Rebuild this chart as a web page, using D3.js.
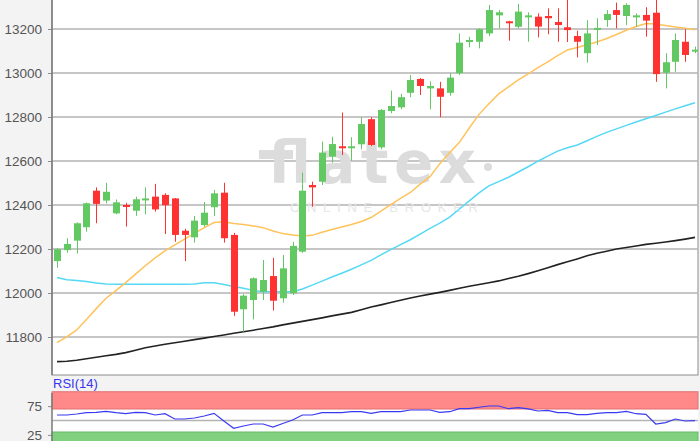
<!DOCTYPE html>
<html lang="de">
  <head>
    <meta charset="utf-8">
    <title>Kerzenchart mit RSI</title>
    <script src="https://d3js.org/d3.v7.min.js"></script>
    <style>
      body { margin: 0; background: #f3f3f3; }
      #chart text { font-family: "Liberation Sans", Arial, sans-serif; }
    </style>
  </head>
  <body>
    <div id="chart"></div>

    <script type="text/javascript">
      "use strict"
      // kerzen (open / high / low / close), eine pro handelstag
      var abertura = [12145, 12195, 12238, 12299, 12465, 12420, 12362, 12400, 12374, 12425, 12438, 12446, 12430, 12283, 12253, 12309, 12390,
                      12456, 12264, 11926, 11968, 12006, 12077, 11976, 11999, 12188, 12491, 12506, 12620, 12667, 12660, 12676, 12790,
                      12662, 12827, 12844, 12910, 12973, 12930, 12930, 12910, 12999, 13141, 13142, 13180, 13262, 13235, 13210, 13259,
                      13256, 13259, 13232, 13208, 13168, 13090, 13200, 13241, 13286, 13259, 13258, 13264, 13274, 13001, 13051, 13142, 13102];
      var maxima   = [12205, 12249, 12321, 12411, 12480, 12501, 12425, 12410, 12438, 12480, 12496, 12453, 12432, 12292, 12350, 12414, 12468,
                      12501, 12273, 11995, 12071, 12150, 12160, 12173, 12233, 12547, 12506, 12688, 12710, 12820, 12708, 12799, 12799,
                      12836, 12920, 12905, 12991, 12977, 12962, 12960, 12999, 13180, 13165, 13203, 13309, 13286, 13237, 13314, 13276,
                      13271, 13294, 13294, 13360, 13192, 13240, 13249, 13286, 13320, 13317, 13271, 13299, 13360, 13090, 13180, 13199, 13120];
      var minima   = [12115, 12183, 12180, 12279, 12317, 12408, 12358, 12302, 12351, 12358, 12370, 12268, 12233, 12145, 12229, 12301, 12350,
                      12229, 11896, 11824, 11880, 11968, 11920, 11956, 11991, 12183, 12392, 12491, 12592, 12627, 12601, 12653, 12668,
                      12653, 12817, 12835, 12890, 12900, 12835, 12799, 12897, 12991, 13117, 13112, 13168, 13203, 13147, 13203, 13142,
                      13162, 13176, 13142, 13141, 13071, 13047, 13127, 13210, 13203, 13218, 13210, 13165, 12960, 12930, 13006, 13051, 13090];
      var fecho    = [12199, 12223, 12317, 12408, 12405, 12460, 12412, 12395, 12426, 12430, 12380, 12399, 12264, 12264, 12329, 12365, 12453,
                      12249, 11915, 11988, 12067, 12059, 11965, 12112, 12214, 12465, 12480, 12638, 12677, 12662, 12667, 12768, 12673,
                      12832, 12850, 12890, 12968, 12941, 12941, 12892, 12979, 13138, 13150, 13199, 13286, 13276, 13229, 13279, 13262,
                      13211, 13249, 13218, 13195, 13142, 13180, 13205, 13268, 13264, 13309, 13262, 13238, 12995, 13049, 13150, 13082, 13106];

      // gleitende durchschnitte
      var media20  = [11774, 11801, 11832, 11880, 11929, 11976, 12011, 12047, 12086, 12124, 12160, 12191, 12219, 12245, 12271, 12297, 12320,
                      12324, 12316, 12311, 12305, 12297, 12282, 12270, 12264, 12259, 12262, 12276, 12289, 12300, 12311, 12325, 12343,
                      12372, 12402, 12430, 12457, 12495, 12529, 12588, 12637, 12685, 12750, 12812, 12860, 12905, 12937, 12969, 12996,
                      13024, 13051, 13079, 13105, 13116, 13128, 13141, 13157, 13175, 13194, 13211, 13225, 13223, 13216, 13209, 13203, 13197];
      var media50  = [12070, 12060, 12057, 12052, 12046, 12041, 12040, 12040, 12040, 12040, 12040, 12040, 12040, 12040, 12041, 12047, 12047,
                      12039, 12030, 12022, 12012, 12006, 12006, 12006, 12006, 12018, 12036, 12054, 12073, 12090, 12108, 12128, 12148,
                      12173, 12197, 12220, 12242, 12268, 12294, 12318, 12345, 12382, 12419, 12455, 12487, 12506, 12526, 12550, 12574,
                      12599, 12622, 12645, 12660, 12673, 12692, 12712, 12730, 12746, 12762, 12777, 12792, 12807, 12822, 12837, 12851, 12865];
      var media200 = [11688, 11690, 11694, 11701, 11708, 11715, 11721, 11729, 11740, 11751, 11759, 11767, 11774, 11781, 11788, 11795, 11802,
                      11809, 11817, 11824, 11831, 11839, 11846, 11855, 11863, 11871, 11879, 11887, 11896, 11904, 11912, 11924, 11936,
                      11946, 11957, 11967, 11977, 11986, 11995, 12003, 12012, 12022, 12031, 12039, 12047, 12055, 12066, 12076, 12088,
                      12101, 12115, 12129, 12142, 12155, 12169, 12181, 12190, 12200, 12207, 12214, 12221, 12226, 12232, 12238, 12245, 12253];

      // RSI(14)
      var rsi = [59.6, 59.6, 61.3, 63.6, 64.1, 65.8, 63.6, 61.8, 64.1, 63.6, 59.6, 61.8, 52.6, 52.6, 54.3, 57.8, 62.5,
                 49, 36.4, 40.4, 43.9, 43.9, 38.7, 44.8, 50.9, 59.6, 59.6, 63.6, 63.6, 63.6, 65.3, 65.3, 62.5,
                 65.3, 65.3, 65.3, 68.3, 68.3, 68.3, 64.3, 65.3, 70.5, 70.5, 73.0, 75.2, 75.2, 70.5, 72.3, 70.3,
                 66.5, 67.7, 63.6, 63.6, 60.1, 60.1, 62.5, 63.6, 63.6, 66.0, 61.8, 60.8, 43.9, 46.2, 52.6, 49.1, 49.7];

      var ticksPreco = [11800, 12000, 12200, 12400, 12600, 12800, 13000, 13200];
      var ticksRsi = [25, 75];

      var larguraSVG = 700, alturaSVG = 441;
      var painel = {left: 52, right: 698, top: -2, bottom: 375};   // painel de precos
      var painelRsi = {top: 393, bottom: 450};

      var svg = d3.select('#chart')
        .append('svg')
          .attr('width', larguraSVG)
          .attr('height', alturaSVG);

      svg.append('rect').attr('width', larguraSVG).attr('height', alturaSVG).attr('fill', '#f3f3f3');

      /*
       * escalas
       */
      var x = d3.scaleLinear()
                .domain([0, abertura.length - 1])
                .range([57, 695]);
      var y = d3.scaleLinear()
                .domain([11627.3, 13331.8])
                .range([375, 0]);
      var yRsi = d3.scaleLinear()
                .domain([0, 100])
                .range([449.25, 391.75]);

      svg.append('clipPath').attr('id', 'clipPreco')
        .append('rect')
          .attr('x', painel.left).attr('y', painel.top)
          .attr('width', painel.right - painel.left).attr('height', painel.bottom - painel.top);

      // fundo branco do painel
      svg.append('rect')
        .attr('x', painel.left).attr('y', painel.top)
        .attr('width', painel.right - painel.left).attr('height', painel.bottom - painel.top)
        .attr('fill', '#fff')
        .attr('stroke', '#8c8c8c');

      // linhas de grade
      svg.append('g').selectAll('line')
        .data(ticksPreco)
        .enter().append('line')
          .attr('x1', painel.left).attr('x2', painel.right)
          .attr('y1', d => y(d)).attr('y2', d => y(d))
          .attr('stroke', '#b3b3b3')
          .attr('stroke-width', 1.5);

      // marca d'agua
      var marca = svg.append('g').attr('fill', '#dcdcdc');
      marca.append('rect').attr('x', 259).attr('y', 150).attr('width', 34).attr('height', 9);
      marca.append('text')
        .attr('x', 268).attr('y', 183)
        .attr('textLength', 208)
        .style('font-family', '"DejaVu Sans", sans-serif')
        .style('font-weight', 'bold')
        .style('font-size', '58px')
        .text('flatex');
      marca.append('circle').attr('cx', 488).attr('cy', 167).attr('r', 4);
      marca.append('text')
        .attr('x', 290).attr('y', 212)
        .attr('textLength', 188)
        .attr('fill', '#e6e6e6')
        .style('font-size', '13px')
        .text('ONLINE BROKER');

      /*
       * as marcas
       */
      var area = svg.append('g').attr('clip-path', 'url(#clipPreco)');

      var linha = d3.line()
        .x((d, i) => x(i))
        .y(d => y(d));

      area.append('path').datum(media200)
        .attr('d', linha).attr('fill', 'none').attr('stroke', '#222').attr('stroke-width', 1.6);
      area.append('path').datum(media50)
        .attr('d', linha).attr('fill', 'none').attr('stroke', '#55d8f6').attr('stroke-width', 1.5);
      area.append('path').datum(media20)
        .attr('d', linha).attr('fill', 'none').attr('stroke', '#fec35a').attr('stroke-width', 1.5);

      var cor = i => fecho[i] >= abertura[i] ? '#62c862' : '#ff3131';

      var velas = area.selectAll('.vela')
        .data(d3.range(abertura.length))
        .enter().append('g')
          .attr('class', 'vela');
      velas.append('line')
        .attr('x1', i => Math.round(x(i)) + 0.5).attr('x2', i => Math.round(x(i)) + 0.5)
        .attr('y1', i => y(maxima[i])).attr('y2', i => y(minima[i]))
        .attr('stroke', cor)
        .attr('stroke-width', 1);
      velas.append('rect')
        .attr('x', i => Math.round(x(i)) - 3)
        .attr('width', 7)
        .attr('y', i => Math.min(y(abertura[i]), y(fecho[i])))
        .attr('height', i => Math.max(2, Math.abs(y(abertura[i]) - y(fecho[i]))))
        .attr('fill', cor);

      /*
       * eixo de precos
       */
      var eixo = svg.append('g')
        .attr('transform', 'translate(' + painel.left + ',0)')
        .call(d3.axisLeft(y).tickValues(ticksPreco).tickFormat(d3.format('d'))
                .tickSize(4).tickPadding(6).tickSizeOuter(0));
      eixo.select('.domain').remove();
      eixo.selectAll('line').attr('stroke', '#8c8c8c');
      eixo.selectAll('text').attr('fill', '#555').style('font-size', '13.5px');
      svg.append('line')
        .attr('x1', painel.left).attr('x2', painel.left)
        .attr('y1', 0).attr('y2', painel.bottom)
        .attr('stroke', '#7a7a7a').attr('stroke-width', 1.5);

      /*
       * painel RSI
       */
      svg.append('rect')
        .attr('x', painel.left).attr('y', painelRsi.top)
        .attr('width', painel.right - painel.left).attr('height', painelRsi.bottom - painelRsi.top)
        .attr('fill', '#fff');
      svg.append('rect')
        .attr('x', painel.left).attr('y', yRsi(100))
        .attr('width', painel.right - painel.left).attr('height', yRsi(70) - yRsi(100))
        .attr('fill', '#ff8888').attr('stroke', '#e07070');
      svg.append('rect')
        .attr('x', painel.left).attr('y', yRsi(30))
        .attr('width', painel.right - painel.left).attr('height', yRsi(0) - yRsi(30))
        .attr('fill', '#80d080').attr('stroke', '#66bb66');
      svg.append('line')
        .attr('x1', painel.left).attr('x2', painel.right)
        .attr('y1', yRsi(50)).attr('y2', yRsi(50))
        .attr('stroke', '#b3b3b3').attr('stroke-width', 1.5);

      svg.append('path').datum(rsi)
        .attr('d', d3.line().x((d, i) => x(i)).y(d => yRsi(d)))
        .attr('fill', 'none').attr('stroke', '#3a3af0').attr('stroke-width', 1.2);

      var eixoRsi = svg.append('g')
        .attr('transform', 'translate(' + painel.left + ',0)')
        .call(d3.axisLeft(yRsi).tickValues(ticksRsi).tickSize(4).tickPadding(6).tickSizeOuter(0));
      eixoRsi.select('.domain').remove();
      eixoRsi.selectAll('line').attr('stroke', '#8c8c8c');
      eixoRsi.selectAll('text').attr('fill', '#555').style('font-size', '13.5px');
      svg.append('line')
        .attr('x1', painel.left).attr('x2', painel.left)
        .attr('y1', painelRsi.top).attr('y2', alturaSVG)
        .attr('stroke', '#7a7a7a').attr('stroke-width', 1.5);

      svg.append('text')
        .attr('x', 53).attr('y', 388)
        .attr('fill', '#3535f0')
        .style('font-size', '13px')
        .text('RSI(14)');
    </script>
  </body>
</html>
